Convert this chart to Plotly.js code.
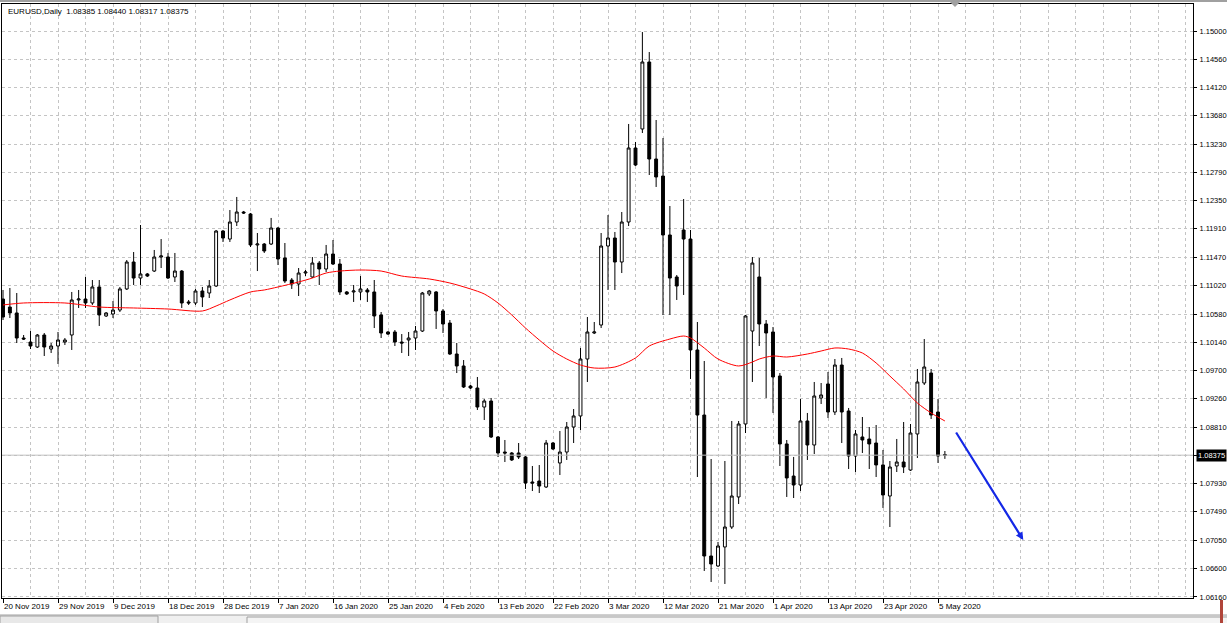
<!DOCTYPE html>
<html><head><meta charset="utf-8">
<script src="https://cdn.plot.ly/plotly-3.0.1.min.js"></script>
<style>html,body{margin:0;padding:0;background:#fff;overflow:hidden}#chart{width:1227px;height:623px}</style>
</head><body><div id="chart"></div>
<script>
const symbolTitle = "EURUSD,Daily  1.08385 1.08440 1.08317 1.08375";
const opens = [1.10814,1.10689,1.10596,1.10205,1.10142,1.10064,1.10252,1.10033,1.10080,1.10142,
1.10252,1.10799,1.10814,1.10752,1.11002,1.10549,1.10580,1.10642,1.10971,1.11392,
1.11142,1.11205,1.11251,1.11470,1.11470,1.11158,1.11251,1.10768,1.10752,1.10939,
1.10908,1.11017,1.11876,1.11751,1.12017,1.12173,1.12142,1.11658,1.11673,1.11673,
1.11923,1.11455,1.11111,1.11049,1.11220,1.11158,1.11376,1.11283,1.11517,1.11361,
1.10924,1.10924,1.10924,1.10955,1.10924,1.10565,1.10299,1.10299,1.10142,1.10174,
1.10205,1.10314,1.10893,1.10924,1.10627,1.10439,1.09955,1.09768,1.09455,1.09424,
1.09127,1.09221,1.08659,1.08424,1.08409,1.08409,1.08347,1.07956,1.07971,1.07878,
1.08565,1.08253,1.08424,1.08815,1.08987,1.09877,1.10283,1.10408,1.11642,1.11767,
1.11392,1.12017,1.13173,1.13470,1.14516,1.13001,1.12735,1.11814,1.11158,1.11892,
1.11751,1.10018,1.09002,1.06800,1.06644,1.06941,1.07253,1.07722,1.08862,1.10314,
1.11158,1.10424,1.10299,1.09611,1.08550,1.08049,1.07909,1.08909,1.08534,1.09268,
1.09487,1.09049,1.09783,1.09065,1.08362,1.08659,1.08627,1.08565,1.08222,1.07737,
1.08206,1.08268,1.08143,1.08706,1.09502,1.09658,1.09049,1.08385];
const highs = [1.10955,1.10986,1.10908,1.10252,1.10314,1.10267,1.10283,1.10127,1.10299,1.10205,
1.10924,1.10955,1.11158,1.11111,1.11111,1.10611,1.10783,1.11002,1.11423,1.11548,
1.11970,1.11220,1.11580,1.11751,1.11533,1.11533,1.11267,1.10799,1.10971,1.11002,
1.11111,1.11892,1.11892,1.12204,1.12408,1.12189,1.12158,1.11845,1.11689,1.12080,
1.11939,1.11689,1.11142,1.11298,1.11267,1.11470,1.11408,1.11658,1.11736,1.11439,
1.10939,1.11033,1.11173,1.10986,1.11111,1.10611,1.10314,1.10330,1.10267,1.10299,
1.10393,1.10924,1.10955,1.10939,1.10658,1.10486,1.10127,1.09861,1.09471,1.09596,
1.09252,1.09268,1.08674,1.08612,1.08424,1.08565,1.08362,1.08206,1.08221,1.08612,
1.08581,1.08753,1.08893,1.09096,1.10049,1.10533,1.10455,1.11845,1.12126,1.11861,
1.12173,1.13548,1.13267,1.14984,1.14672,1.13610,1.13329,1.12267,1.11189,1.12376,
1.11892,1.10455,1.09846,1.08315,1.07019,1.08284,1.08909,1.08909,1.10565,1.11470,
1.11455,1.10486,1.10377,1.09658,1.08612,1.08347,1.09252,1.09034,1.09518,1.09502,
1.09674,1.09877,1.09893,1.09112,1.08768,1.08971,1.08815,1.08846,1.08456,1.08284,
1.08628,1.08893,1.08862,1.09721,1.10189,1.09721,1.09252,1.08440];
const lows = [1.10486,1.10517,1.10127,1.10174,1.10033,1.10049,1.09924,1.09971,1.09799,1.10096,
1.10018,1.10674,1.10674,1.10721,1.10393,1.10533,1.10517,1.10611,1.10955,1.11033,
1.11033,1.11158,1.11236,1.11298,1.11127,1.11080,1.10674,1.10721,1.10721,1.10689,
1.10830,1.11002,1.11705,1.11705,1.11954,1.12142,1.11626,1.11251,1.11533,1.11658,
1.11345,1.11064,1.10971,1.10861,1.11173,1.11142,1.11033,1.11236,1.11345,1.10877,
1.10877,1.10768,1.10799,1.10768,1.10361,1.10205,1.10252,1.10080,1.09971,1.09924,
1.10018,1.10299,1.10861,1.10346,1.10283,1.09940,1.09658,1.09424,1.09409,1.09081,
1.08924,1.08643,1.08347,1.08268,1.08284,1.08315,1.07847,1.07815,1.07784,1.07862,
1.08456,1.08065,1.08300,1.08565,1.08768,1.09518,1.10267,1.10361,1.10955,1.10955,
1.11220,1.11954,1.12892,1.13407,1.12751,1.12564,1.10565,1.10565,1.10799,1.10877,
1.09565,1.08034,1.06566,1.06394,1.06628,1.06363,1.07222,1.07612,1.08721,1.09518,
1.10080,1.09268,1.09034,1.08206,1.07722,1.07706,1.07815,1.08300,1.08393,1.09174,
1.08955,1.09002,1.08565,1.08159,1.08112,1.08409,1.08159,1.08034,1.07550,1.07253,
1.08112,1.08096,1.08128,1.08331,1.09471,1.08940,1.08253,1.08317];
const closes = [1.10533,1.10596,1.10205,1.10189,1.10080,1.10252,1.10064,1.10080,1.10174,1.10174,
1.10799,1.10814,1.10752,1.11002,1.10565,1.10596,1.10642,1.10971,1.11392,1.11142,
1.11205,1.11173,1.11470,1.11486,1.11142,1.11251,1.10752,1.10752,1.10939,1.10846,
1.11017,1.11876,1.11767,1.12017,1.12173,1.12158,1.11658,1.11673,1.11564,1.11923,
1.11439,1.11095,1.11049,1.11220,1.11236,1.11376,1.11283,1.11517,1.11361,1.10924,
1.10893,1.10939,1.10971,1.10924,1.10549,1.10283,1.10267,1.10142,1.10127,1.10205,
1.10314,1.10908,1.10939,1.10627,1.10424,1.09955,1.09768,1.09440,1.09424,1.09127,
1.09221,1.08659,1.08409,1.08409,1.08300,1.08347,1.07940,1.07940,1.07893,1.08565,
1.08471,1.08424,1.08815,1.08987,1.09877,1.10299,1.10299,1.11642,1.11767,1.11392,
1.12017,1.13173,1.12907,1.14516,1.13001,1.12720,1.11814,1.11142,1.11017,1.11751,
1.10018,1.09002,1.06800,1.06675,1.06956,1.07253,1.07737,1.08862,1.10549,1.11376,
1.10424,1.10283,1.09596,1.08550,1.08019,1.07909,1.08909,1.08534,1.09299,1.09315,
1.09049,1.09783,1.09049,1.08362,1.08706,1.08612,1.08550,1.08222,1.07753,1.08190,
1.08268,1.08190,1.08721,1.09518,1.09752,1.09002,1.08362,1.08375];
// moving average (red line), sampled: bar number -> price
const maBar = [0,3,9,14,19,24,29,31,33,36,38,40,43,45,47,49,52,55,58,62,65,68,70,72,74,76,78,80,82,84,86,89,92,94,97,99,100,102,104,107,109,110,112,114,117,119,121,123,125,127,129,131,133,135,137];
const maVal = [1.10721,1.10752,1.10752,1.10689,1.10674,1.10658,1.10627,1.10705,1.10799,1.10924,1.10955,1.11002,1.11080,1.11142,1.11220,1.11251,1.11267,1.11251,1.11173,1.11127,1.11064,1.10971,1.10893,1.10752,1.10565,1.10361,1.10174,1.10002,1.09877,1.09783,1.09736,1.09752,1.09893,1.10080,1.10189,1.10236,1.10205,1.10049,1.09877,1.09768,1.09830,1.09877,1.09924,1.09908,1.09955,1.10002,1.10049,1.10033,1.09971,1.09815,1.09611,1.09409,1.09190,1.09034,1.08909];
const dateLabels = ["20 Nov 2019","29 Nov 2019","9 Dec 2019","18 Dec 2019","28 Dec 2019","7 Jan 2020","16 Jan 2020","25 Jan 2020","4 Feb 2020","13 Feb 2020","22 Feb 2020","3 Mar 2020","12 Mar 2020","21 Mar 2020","1 Apr 2020","13 Apr 2020","23 Apr 2020","5 May 2020"];
const dateLabelBar = [0,8,16,24,32,40,48,56,64,72,80,88,96,104,112,120,128,136];
const priceLabels = ["1.06160","1.06600","1.07050","1.07490","1.07930","1.08370","1.08810","1.09260","1.09700","1.10140","1.10580","1.11020","1.11470","1.11910","1.12350","1.12790","1.13230","1.13680","1.14120","1.14560","1.15000"];
const currentPrice = 1.08375;
const currentLabel = "1.08375";

const bars = opens.map((_, i) => i);
const FONT = "Liberation Sans, Arial, sans-serif";
const GRID = "#c4c4c4";
const DASH = "3px,3px";

const traces = [
  {type:"candlestick", x:bars, open:opens, high:highs, low:lows, close:closes,
   increasing:{line:{color:"#000",width:1}, fillcolor:"#fff"},
   decreasing:{line:{color:"#000",width:1}, fillcolor:"#000"},
   whiskerwidth:0, hoverinfo:"skip", showlegend:false},
  {type:"scatter", mode:"lines", x:maBar, y:maVal, line:{color:"#ff0000", width:1, shape:"spline", smoothing:0.8},
   hoverinfo:"skip", showlegend:false}
];

const px2paper = y => (598 - y) / 594;
const pxX = x => (x - 2) / 1191;
const annotations = dateLabels.map((t, k) => ({
  x: dateLabelBar[k], xref:"x", y:0, yref:"paper", text:t, showarrow:false,
  xanchor:"left", yanchor:"top", xshift:-1, yshift:-2, font:{family:FONT, size:8, color:"#000"}
}));
annotations.push({x:0, xref:"paper", y:1, yref:"paper", text:symbolTitle, showarrow:false,
  xanchor:"left", yanchor:"top", xshift:4, yshift:-1, font:{family:FONT, size:8, color:"#000"}});
annotations.push({x:1, xref:"paper", y:currentPrice, yref:"y", text:currentLabel, showarrow:false,
  xanchor:"left", yanchor:"middle", xshift:3, bgcolor:"#000", borderpad:1, font:{family:FONT, size:7.5, color:"#fff"}});
annotations.push({x:148.4, y:1.0705, xref:"x", yref:"y", ax:138.5, ay:1.08753, axref:"x", ayref:"y",
  showarrow:true, arrowhead:2, arrowsize:0.7, arrowwidth:2.2, arrowcolor:"#1428e6", text:""});

const shapes = [
  {type:"line", xref:"paper", yref:"y", x0:0, x1:1, y0:currentPrice, y1:currentPrice, line:{color:"#c0c0c0", width:1}},
  {type:"rect", xref:"paper", yref:"paper", x0:-0.01, x1:1.03, y0:px2paper(0), y1:px2paper(2), fillcolor:"#a0a0a0", line:{width:0}},
  {type:"path", xref:"paper", yref:"paper",
   path:`M ${pxX(950)} ${px2paper(2)} L ${pxX(960)} ${px2paper(2)} L ${pxX(955)} ${px2paper(7)} Z`,
   fillcolor:"#a0a0a0", line:{width:0}},
  {type:"rect", xref:"paper", yref:"paper", x0:pxX(-2), x1:pxX(1230), y0:px2paper(615), y1:px2paper(624), fillcolor:"#f0f0f0", line:{color:"#a0a0a0", width:1}},
  {type:"rect", xref:"paper", yref:"paper", x0:pxX(0), x1:pxX(158), y0:px2paper(616), y1:px2paper(624), fillcolor:"#e8e8e8", line:{color:"#a0a0a0", width:1}},
  {type:"rect", xref:"paper", yref:"paper", x0:pxX(247), x1:pxX(1230), y0:px2paper(617), y1:px2paper(624), fillcolor:"#f4f4f4", line:{color:"#a0a0a0", width:1}},
  {type:"rect", xref:"paper", yref:"paper", x0:pxX(1220), x1:pxX(1223), y0:px2paper(600), y1:px2paper(623), fillcolor:"#b0453a", line:{width:0}}
];

const layout = {
  width:1227, height:623, margin:{l:2, r:34, t:4, b:25, pad:0},
  paper_bgcolor:"#fff", plot_bgcolor:"#fff", showlegend:false, boxgap:0.4, hovermode:false,
  font:{family:FONT, size:8, color:"#000"},
  xaxis:{range:[-0.1455,173.09], rangeslider:{visible:false}, tickmode:"array", tickvals:dateLabelBar,
    showticklabels:false, ticks:"outside", ticklen:4, tickcolor:"#000",
    showgrid:true, gridcolor:GRID, griddash:DASH, gridwidth:1, zeroline:false,
    showline:true, linecolor:"#000", linewidth:1, mirror:true,
    minor:{tickmode:"linear", tick0:0, dtick:4, showgrid:true, gridcolor:GRID, griddash:DASH, ticks:""}},
  yaxis:{range:[1.06144,1.15422], side:"right", tickmode:"array",
    tickvals:priceLabels.map(Number), ticktext:priceLabels.map(t => t === "1.08370" ? "" : t),
    ticks:"outside", ticklen:3, tickcolor:"#000", ticklabelstandoff:1,
    showgrid:true, gridcolor:GRID, griddash:DASH, gridwidth:1, zeroline:false,
    showline:true, linecolor:"#000", linewidth:1, mirror:true, tickfont:{family:FONT, size:7.5, color:"#000"}},
  annotations, shapes
};
Plotly.newPlot("chart", traces, layout, {displayModeBar:false, staticPlot:true});
</script></body></html>
